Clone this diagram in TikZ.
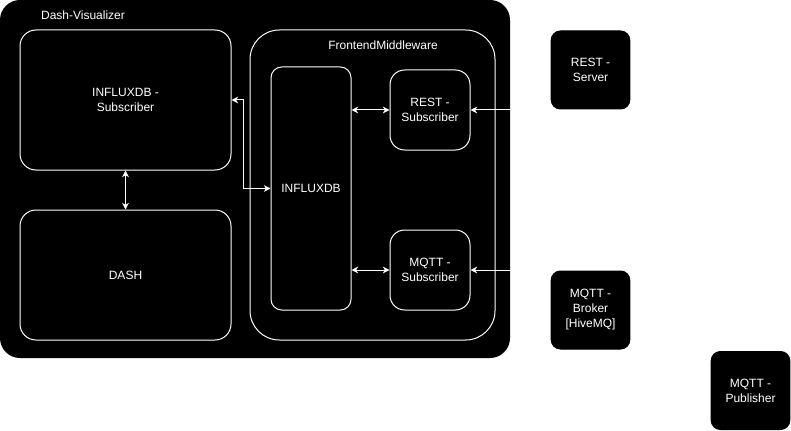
\documentclass[tikz,border=0pt]{standalone}
\usepackage{fontspec}
\setmainfont{Liberation Sans}
\usetikzlibrary{shapes,arrows,arrows.meta,positioning}

\begin{document}
\begin{tikzpicture}[x=0.75pt, y=-0.75pt, line width=0.75pt]
\tikzstyle{group} = [rectangle, fill=black, draw=none, rounded corners=15pt, inner sep=0pt]
\tikzstyle{frame} = [rectangle, draw=white, fill=black, rounded corners=22pt, inner sep=0pt]
\tikzstyle{block} = [rectangle, draw=white, fill=black, rounded corners=11pt, text=white, align=center, inner sep=0pt, font=\fontsize{9}{11.25}\selectfont]
\tikzstyle{ext} = [rectangle, fill=black, draw=black, rounded corners=7pt, text=white, align=center, minimum width=59pt, minimum height=58.5pt, inner sep=0pt, font=\fontsize{9}{11.25}\selectfont]
\tikzstyle{title} = [text=white, inner sep=0pt, font=\fontsize{9}{11.25}\selectfont]
\tikzstyle{arrow} = [draw=white, line width=0.75pt, >={Stealth[length=5pt,width=5pt,inset=1.5pt]}]

\useasboundingbox (0,0) rectangle (791,431);

% Dash-Visualizer
\node [group, minimum width=382.5pt, minimum height=268.5pt] (vis) at (255,179) {};
\node [title] (vistitle) at (83,15) {Dash-Visualizer};
\node [block, rounded corners=12pt, minimum width=158.25pt, minimum height=105pt] (isub) at (125.5,100) {INFLUXDB -\\Subscriber};
\node [block, rounded corners=12pt, minimum width=158.25pt, minimum height=97.5pt] (dash) at (125.5,275) {DASH};

% FrontendMiddleware
\node [frame, minimum width=183.75pt, minimum height=232.5pt] (front) at (372.5,185) {};
\node [title] (fronttitle) at (383,45) {FrontendMiddleware};
\node [block, rounded corners=8pt, minimum width=60pt, minimum height=182.25pt] (influx) at (311,188.5) {INFLUXDB};
\node [block, minimum width=60pt, minimum height=60pt] (rsub) at (430,110) {REST -\\Subscriber};
\node [block, minimum width=60pt, minimum height=60pt] (msub) at (430,270) {MQTT -\\Subscriber};

% external
\node [ext] (rserver) at (590.5,70) {REST -\\Server};
\node [ext] (broker) at (590.5,310) {MQTT -\\Broker\\{[HiveMQ]}};
\node [ext] (pub) at (750.5,390.5) {MQTT -\\Publisher};

\draw [arrow, <->] (isub.south) -- (dash.north);
\draw [arrow, <->] (isub.east) -- ++(12,0) |- (influx.west);
\draw [arrow, <->] (influx.east |- rsub.west) -- (rsub.west);
\draw [arrow, <->] (influx.east |- msub.west) -- (msub.west);
\draw [arrow, ->] (rsub.east -| rserver.west) -- (rsub.east);
\draw [arrow, ->] (msub.east -| broker.west) -- (msub.east);
\end{tikzpicture}
\end{document}
